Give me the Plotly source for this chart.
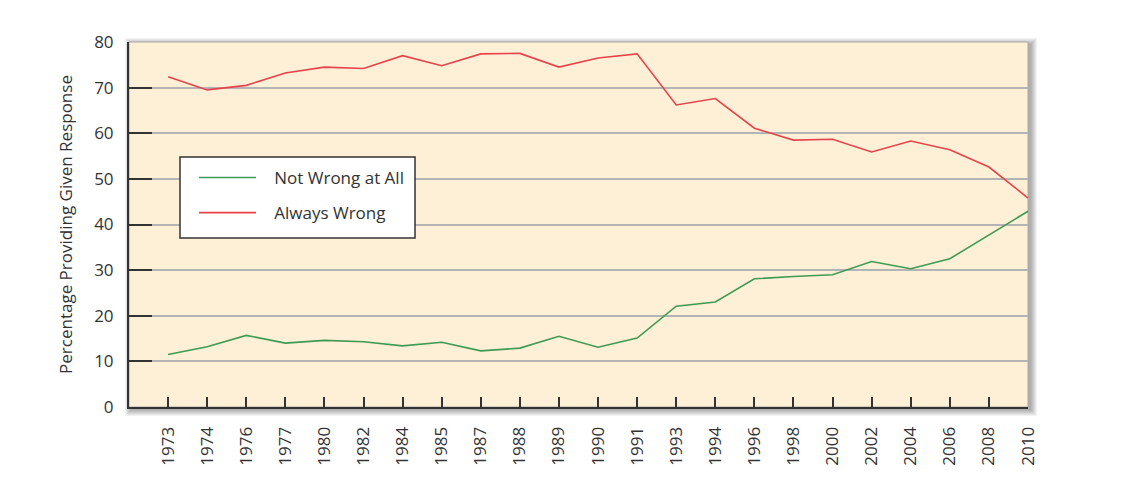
import plotly.graph_objects as go

years = ["1973", "1974", "1976", "1977", "1980", "1982", "1984", "1985", "1987", "1988",
         "1989", "1990", "1991", "1993", "1994", "1996", "1998", "2000", "2002", "2004",
         "2006", "2008", "2010"]
not_wrong = [11.5, 13.2, 15.7, 14.0, 14.6, 14.3, 13.4, 14.2, 12.3, 12.9,
             15.5, 13.1, 15.1, 22.1, 23.0, 28.1, 28.6, 29.0, 31.9, 30.3,
             32.5, 37.7, 42.9]
always_wrong = [72.4, 69.5, 70.5, 73.2, 74.5, 74.2, 77.0, 74.8, 77.4, 77.5,
                74.5, 76.5, 77.4, 66.2, 67.6, 61.1, 58.5, 58.7, 55.9, 58.3,
                56.4, 52.6, 45.8]
y_ticks = [0, 10, 20, 30, 40, 50, 60, 70, 80]

W, H = 1126, 492
OFF = 8  # page body margin
ML, MT = 129 - OFF, 42 - OFF
PW, PH = 899, 365
MR, MB = W - ML - PW, H - MT - PH
X0, Y0 = 129, 42  # plot area origin on screen

def px_x(dx):
    return dx / PW

def px_y(dy):
    return dy / PH

def sx(x):
    return (x - X0) / PW

def sy(y):
    return 1 - (y - Y0) / PH

FONT = "Open Sans, Liberation Sans, sans-serif"
TXT = "#333333"
NB = "\u00a0\u00a0\u00a0"

fig = go.Figure()
fig.add_trace(go.Scatter(x=years, y=not_wrong, mode="lines", name=NB + "Not Wrong at All",
                         line=dict(color="#3f9a55", width=1.6), legendgroup="a"))
fig.add_trace(go.Scatter(x=years, y=always_wrong, mode="lines", name=NB + "Always Wrong",
                         line=dict(color="#e8434c", width=1.6), legendgroup="b"))

shapes = []
# soft drop shadow
for k in range(1, 8):
    off = 3
    shapes.append(dict(type="rect", xref="paper", yref="paper", layer="below",
                       x0=-px_x(k - off), x1=1 + px_x(k + off - 1),
                       y0=-px_y(k + off - 1), y1=1 + px_y(k - off),
                       fillcolor="rgba(0,0,0,0.05)", line=dict(width=0)))
shapes.append(dict(type="rect", xref="paper", yref="paper", layer="below",
                   x0=0, x1=1, y0=0, y1=1, fillcolor="#fdf0d6",
                   line=dict(color="#a8a8a8", width=1)))
# legend box
shapes.append(dict(type="rect", xref="paper", yref="paper", layer="above",
                   x0=sx(180), x1=sx(415), y0=sy(238), y1=sy(157),
                   fillcolor="white", line=dict(color="#333333", width=1.5)))

fig.update_layout(
    width=W, height=H,
    margin=dict(l=ML, r=MR, t=MT, b=MB),
    paper_bgcolor="white",
    plot_bgcolor="rgba(0,0,0,0)",
    font=dict(family=FONT, color=TXT, size=16),
    shapes=shapes,
    showlegend=True,
    legend=dict(x=sx(194), y=sy(160), xanchor="left", yanchor="top",
                bgcolor="rgba(0,0,0,0)", borderwidth=0,
                font=dict(size=17, family=FONT, color=TXT),
                tracegroupgap=10, itemwidth=57),
    xaxis=dict(type="category", range=[-1, len(years) - 1], showgrid=False,
               showline=True, linecolor="#333333", linewidth=2,
               ticks="inside", ticklen=10, tickwidth=2, tickcolor="#333333",
               tickangle=-90, tickfont=dict(size=17, color=TXT, family=FONT),
               ticklabelstandoff=11, zeroline=False),
    yaxis=dict(range=[0, 80], tickvals=y_ticks, showgrid=True, gridcolor="#b4b4b4",
               gridwidth=1.5, showline=True, linecolor="#333333", linewidth=2,
               ticks="inside", ticklen=23, tickwidth=2, tickcolor="#333333",
               tickfont=dict(size=17, color=TXT, family=FONT), ticklabelstandoff=10,
               zeroline=False,
               title=dict(text="Percentage Providing Given Response", standoff=17,
                          font=dict(size=17, color=TXT, family=FONT))),
)

fig.write_html("out.html")
